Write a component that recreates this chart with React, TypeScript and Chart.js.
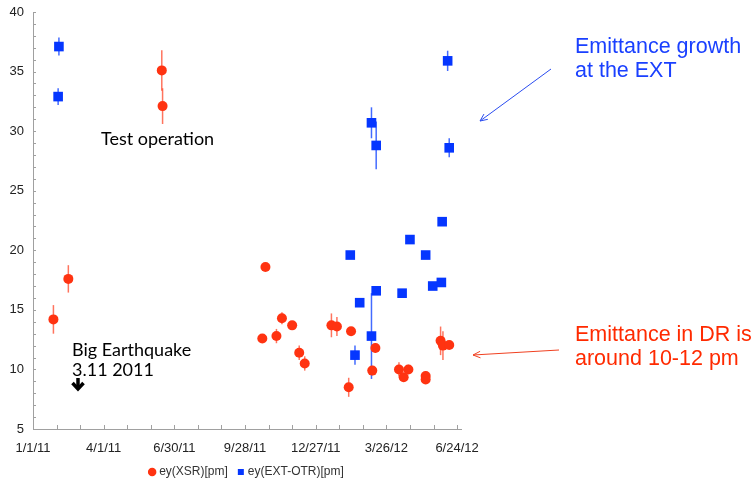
import React, { useEffect, useRef } from 'react';
import { Chart, registerables } from 'chart.js';

Chart.register(...registerables);

const START = Date.UTC(2011, 0, 1);
const dayOf = (s: string) => (Date.parse(s + 'T00:00:00Z') - START) / 86400000;

// ey(XSR)[pm]
const xsrDates = [
  '2011-01-27', '2011-02-15', '2011-06-14', '2011-06-15', '2011-10-20', '2011-10-24',
  '2011-11-07', '2011-11-14', '2011-11-27', '2011-12-06', '2011-12-13', '2012-01-16',
  '2012-01-23', '2012-02-07', '2012-02-10', '2012-03-08', '2012-03-12', '2012-04-11',
  '2012-04-17', '2012-04-23', '2012-05-15', '2012-05-15', '2012-06-03', '2012-06-06',
  '2012-06-14',
];
const xsrValues = [
  14.2, 17.6, 35.1, 32.1, 12.6, 18.6,
  12.8, 14.3, 13.7, 11.4, 10.5, 13.7,
  13.6, 8.5, 13.2, 9.9, 11.8, 10.0,
  9.35, 10.0, 9.45, 9.15, 12.4, 12.0,
  12.05,
];
const xsrErrors = [
  1.2, 1.15, 1.7, 1.5, 0.3, 0.2,
  0.6, 0.5, 0.3, 0.6, 0.6, 1.0,
  0.8, 0.8, 0.3, 0.4, 0.4, 0.6,
  0.3, 0.4, 0.4, 0.3, 1.2, 1.2,
  0.3,
];

// ey(EXT-OTR)[pm]
const otrDates = [
  '2011-02-03', '2011-02-02', '2012-02-09', '2012-02-15', '2012-02-21', '2012-03-07',
  '2012-03-07', '2012-03-13', '2012-03-13', '2012-04-15', '2012-04-25', '2012-05-15',
  '2012-05-24', '2012-06-04', '2012-06-05', '2012-06-12', '2012-06-14',
];
const otrValues = [
  37.1, 32.9, 19.6, 11.2, 15.6, 30.7,
  12.8, 28.8, 16.6, 16.4, 20.9, 19.6,
  17.0, 17.3, 22.4, 35.9, 28.6,
];
const otrErrors = [
  0.75, 0.7, 0, 0.8, 0, 1.3,
  3.6, 2.0, 0, 0, 0, 0,
  0, 0, 0, 0.85, 0.8,
];

const seriesNames = ['ey(XSR)[pm]', 'ey(EXT-OTR)[pm]'];
const xTickLabels = ['1/1/11', '4/1/11', '6/30/11', '9/28/11', '12/27/11', '3/26/12', '6/24/12'];
const yTickLabels = ['5', '10', '15', '20', '25', '30', '35', '40'];

const RED = '#ff3311';
const BLUE = '#0536ff';

const errorBarPlugin = {
  id: 'errorBars',
  beforeDatasetsDraw(chart: any) {
    const { ctx } = chart;
    const xs = chart.scales.x;
    const ys = chart.scales.y;
    chart.data.datasets.forEach((ds: any) => {
      const errs: number[] = ds.errors || [];
      ctx.save();
      ctx.strokeStyle = ds.errorColor;
      ctx.lineWidth = 1.5;
      ds.data.forEach((p: any, i: number) => {
        const e = errs[i] || 0;
        if (!e) return;
        const px = xs.getPixelForValue(p.x);
        ctx.beginPath();
        ctx.moveTo(px, ys.getPixelForValue(p.y - e));
        ctx.lineTo(px, ys.getPixelForValue(p.y + e));
        ctx.stroke();
      });
      ctx.restore();
    });
  },
};

const innerTicksPlugin = {
  id: 'innerTicks',
  afterDraw(chart: any) {
    const { ctx, chartArea } = chart;
    const xs = chart.scales.x;
    const ys = chart.scales.y;
    ctx.save();
    ctx.strokeStyle = '#a0a0a0';
    ctx.lineWidth = 1;
    xs.ticks.forEach((t: any) => {
      const px = Math.round(xs.getPixelForValue(t.value)) + 0.5;
      ctx.beginPath();
      ctx.moveTo(px, chartArea.bottom);
      ctx.lineTo(px, chartArea.bottom - 4);
      ctx.stroke();
    });
    ys.ticks.forEach((t: any) => {
      const py = Math.round(ys.getPixelForValue(t.value)) + 0.5;
      ctx.beginPath();
      ctx.moveTo(chartArea.left, py);
      ctx.lineTo(chartArea.left + 3, py);
      ctx.stroke();
    });
    ctx.restore();
  },
};

// legend in the source sits centred under the plot area (slightly right of the layout box)
const legendShiftPlugin = {
  id: 'legendShift',
  afterLayout(chart: any) {
    const lg = chart.legend;
    if (lg) {
      lg.left += 17;
      lg.right += 17;
    }
  },
};

function arrow(ctx: CanvasRenderingContext2D, x1: number, y1: number, x2: number, y2: number, color: string) {
  const ang = Math.atan2(y2 - y1, x2 - x1);
  const hl = 8;
  const ha = 0.42;
  ctx.save();
  ctx.strokeStyle = color;
  ctx.lineWidth = 1;
  ctx.beginPath();
  ctx.moveTo(x1, y1);
  ctx.lineTo(x2, y2);
  ctx.moveTo(x2 - hl * Math.cos(ang - ha), y2 - hl * Math.sin(ang - ha));
  ctx.lineTo(x2, y2);
  ctx.lineTo(x2 - hl * Math.cos(ang + ha), y2 - hl * Math.sin(ang + ha));
  ctx.stroke();
  ctx.restore();
}

const annotationPlugin = {
  id: 'annotations',
  afterDraw(chart: any) {
    const { ctx } = chart;
    ctx.save();
    ctx.textAlign = 'left';
    ctx.textBaseline = 'alphabetic';
    ctx.fillStyle = '#000';
    ctx.font = '18px Lato';
    ctx.fillText('Test operation', 101, 145);
    ctx.fillText('Big Earthquake', 72, 356);
    ctx.fillText('3.11 2011', 72, 376);

    // bold down arrow
    ctx.strokeStyle = '#000';
    ctx.lineWidth = 3.5;
    ctx.lineCap = 'butt';
    ctx.lineJoin = 'miter';
    ctx.beginPath();
    ctx.moveTo(78, 378);
    ctx.lineTo(78, 389);
    ctx.stroke();
    ctx.beginPath();
    ctx.moveTo(72.5, 383);
    ctx.lineTo(78, 389);
    ctx.lineTo(83.5, 383);
    ctx.stroke();

    ctx.font = '21.5px "Liberation Sans"';
    ctx.fillStyle = '#1a40ff';
    ctx.fillText('Emittance growth', 575, 53);
    ctx.fillText('at the EXT', 575, 77);
    ctx.fillStyle = '#ff2a00';
    ctx.fillText('Emittance in DR is', 575, 341);
    ctx.fillText('around 10-12 pm', 575, 365);
    ctx.restore();

    arrow(ctx, 551, 69, 480, 121, '#2a4cf0');
    arrow(ctx, 559, 350, 473, 355, '#f04020');
  },
};

export default function App() {
  const ref = useRef<HTMLCanvasElement | null>(null);
  useEffect(() => {
    if (!ref.current) return;
    const chart = new Chart(ref.current, {
      type: 'scatter',
      data: {
        datasets: [
          {
            label: seriesNames[0],
            data: xsrDates.map((d, i) => ({ x: dayOf(d), y: xsrValues[i] })),
            backgroundColor: RED,
            borderColor: RED,
            borderWidth: 0,
            pointStyle: 'circle',
            pointRadius: 5,
            pointHoverRadius: 5,
            errors: xsrErrors,
            errorColor: 'rgba(255,70,40,0.75)',
          } as any,
          {
            label: seriesNames[1],
            data: otrDates.map((d, i) => ({ x: dayOf(d), y: otrValues[i] })),
            backgroundColor: BLUE,
            borderColor: BLUE,
            borderWidth: 0,
            pointStyle: 'rect',
            pointRadius: 6.8,
            pointHoverRadius: 6.8,
            errors: otrErrors,
            errorColor: 'rgba(20,70,255,0.8)',
          } as any,
        ],
      },
      options: {
        animation: false,
        responsive: false,
        layout: { padding: { left: 0, top: 12, right: 292, bottom: -7 } },
        plugins: {
          tooltip: { enabled: false },
          legend: {
            position: 'bottom',
            align: 'center',
            labels: {
              usePointStyle: true,
              boxWidth: 2,
              boxHeight: 6,
              padding: 12,
              color: '#333',
              font: { family: '"Liberation Sans", Arial, sans-serif', size: 12 },
            },
          },
        },
        scales: {
          x: {
            type: 'linear',
            min: 0,
            max: 545,
            afterFit: (s: any) => { s.height = 25; },
            grid: { display: true, drawOnChartArea: false, drawTicks: false },
            border: { display: true, color: '#a0a0a0', width: 1 },
            ticks: {
              stepSize: 30,
              includeBounds: false,
              autoSkip: false,
              maxRotation: 0,
              padding: 12,
              color: '#222',
              font: { family: '"Liberation Sans", Arial, sans-serif', size: 13 },
              callback: (v: any) => {
                const n = Number(v);
                return n % 90 === 0 ? xTickLabels[n / 90] ?? '' : '';
              },
            },
          },
          y: {
            type: 'linear',
            min: 5,
            max: 40,
            afterFit: (s: any) => { s.width = 33; s.paddingTop = 0; s.paddingBottom = 0; },
            grid: { display: true, drawOnChartArea: false, drawTicks: false },
            border: { display: true, color: '#a0a0a0', width: 1 },
            ticks: {
              stepSize: 1,
              autoSkip: false,
              padding: 9,
              color: '#222',
              font: { family: '"Liberation Sans", Arial, sans-serif', size: 13 },
              callback: (v: any) => (yTickLabels.includes(String(v)) ? String(v) : ''),
            },
          },
        },
      },
      plugins: [errorBarPlugin, innerTicksPlugin, legendShiftPlugin, annotationPlugin],
    } as any);
    return () => chart.destroy();
  }, []);
  return (
    <div style={{ position: 'absolute', left: 0, top: 0, width: 753, height: 481, background: '#fff' }}>
      <canvas ref={ref} width={753} height={481} style={{ display: 'block' }} />
    </div>
  );
}
